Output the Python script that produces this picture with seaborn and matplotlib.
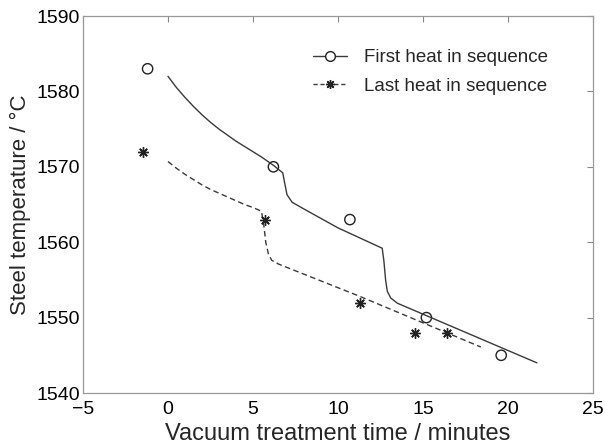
import matplotlib
matplotlib.use("Agg")
import matplotlib.pyplot as plt
import seaborn as sns
import pandas as pd
from matplotlib.lines import Line2D

# Model curves
first_t = [0, 0.5, 1, 1.5, 2, 2.5, 3, 3.5, 4, 4.5, 5, 5.5, 6.2, 6.75, 6.85, 7.0, 7.3, 8,
           10, 12.6, 12.7, 12.8, 12.9, 13.1, 13.5, 21.7]
first_T = [1582.0, 1580.5, 1579.2, 1578.0, 1576.9, 1575.9, 1575.0, 1574.2, 1573.4, 1572.7,
           1572.0, 1571.3, 1570.2, 1569.2, 1568.0, 1566.3, 1565.3, 1564.4,
           1561.9, 1559.2, 1557.5, 1555.0, 1553.5, 1552.6, 1551.9, 1544.0]
last_t = [0, 0.5, 1, 1.5, 2, 2.5, 3, 3.5, 4, 4.5, 5, 5.5, 5.65, 5.75, 5.9, 6.1, 6.5, 11.3, 18.4]
last_T = [1570.7, 1569.8, 1569.0, 1568.3, 1567.6, 1567.0, 1566.5, 1566.0, 1565.5, 1565.0,
          1564.6, 1564.1, 1562.0, 1560.0, 1558.5, 1557.6, 1557.1, 1552.8, 1546.1]

# Measurements
first_meas_t = [-1.2, 6.2, 10.7, 15.2, 19.6]
first_meas_T = [1583, 1570, 1563, 1550, 1545]
last_meas_t = [-1.5, 5.7, 11.3, 14.5, 16.4]
last_meas_T = [1572, 1563, 1552, 1548, 1548]

labels = ["First heat in sequence", "Last heat in sequence"]
x_ticks = [-5, 0, 5, 10, 15, 20, 25]
y_ticks = [1540, 1550, 1560, 1570, 1580, 1590]

sns.set_theme(style="white")
plt.rcParams['font.family'] = ['Liberation Sans', 'DejaVu Sans']

fig = plt.figure(figsize=(6.05, 4.44), dpi=100)
ax = fig.add_axes([83/605, 1-393/444, (593-83)/605, (393-16)/444])

lc = "#3a3a3a"
mc = "#222222"
ast = (8, 2, 0)
sns.lineplot(x=first_t, y=first_T, ax=ax, color=lc, lw=1.0, sort=False, estimator=None)
sns.lineplot(x=last_t, y=last_T, ax=ax, color=lc, lw=1.0, sort=False, estimator=None,
             linestyle=(0, (4, 2.5)))
sns.scatterplot(x=first_meas_t, y=first_meas_T, ax=ax, marker="o", s=55,
                facecolor="none", edgecolor=mc, linewidth=1.0)
ax.plot(last_meas_t, last_meas_T, linestyle="none", marker=ast, markersize=7.5,
        color=mc, markeredgewidth=1.0)

ax.set_xlim(-5, 25)
ax.set_ylim(1540, 1590)
ax.set_xticks(x_ticks)
ax.set_yticks(y_ticks)
ax.tick_params(direction="in", length=4, width=0.8, color="#888888", labelsize=14,
               top=True, right=True, labelcolor="black")
ax.tick_params(axis="x", pad=6)
ax.tick_params(axis="y", pad=2)
for s in ax.spines.values():
    s.set_color("#999999")
    s.set_linewidth(0.9)
ax.set_xlabel("Vacuum treatment time / minutes", fontsize=17, labelpad=3)
ax.set_ylabel("Steel temperature / \u00b0C", fontsize=16, labelpad=4)

handles = [Line2D([0], [0], color=lc, lw=1.0, marker="o", markerfacecolor="white",
                  markeredgecolor=mc, markersize=7),
           Line2D([0], [0], color=lc, lw=1.0, linestyle=(0, (3, 2)), marker=ast,
                  markerfacecolor=mc, markeredgecolor=mc, markersize=6.5, markeredgewidth=1.0)]
ax.legend(handles, labels, loc="upper left", frameon=False, fontsize=13.5,
          handlelength=1.8, handletextpad=0.9, labelspacing=0.6,
          borderpad=0, borderaxespad=0, bbox_to_anchor=(0.451, 0.912))

fig.savefig("out.png", dpi=100)
